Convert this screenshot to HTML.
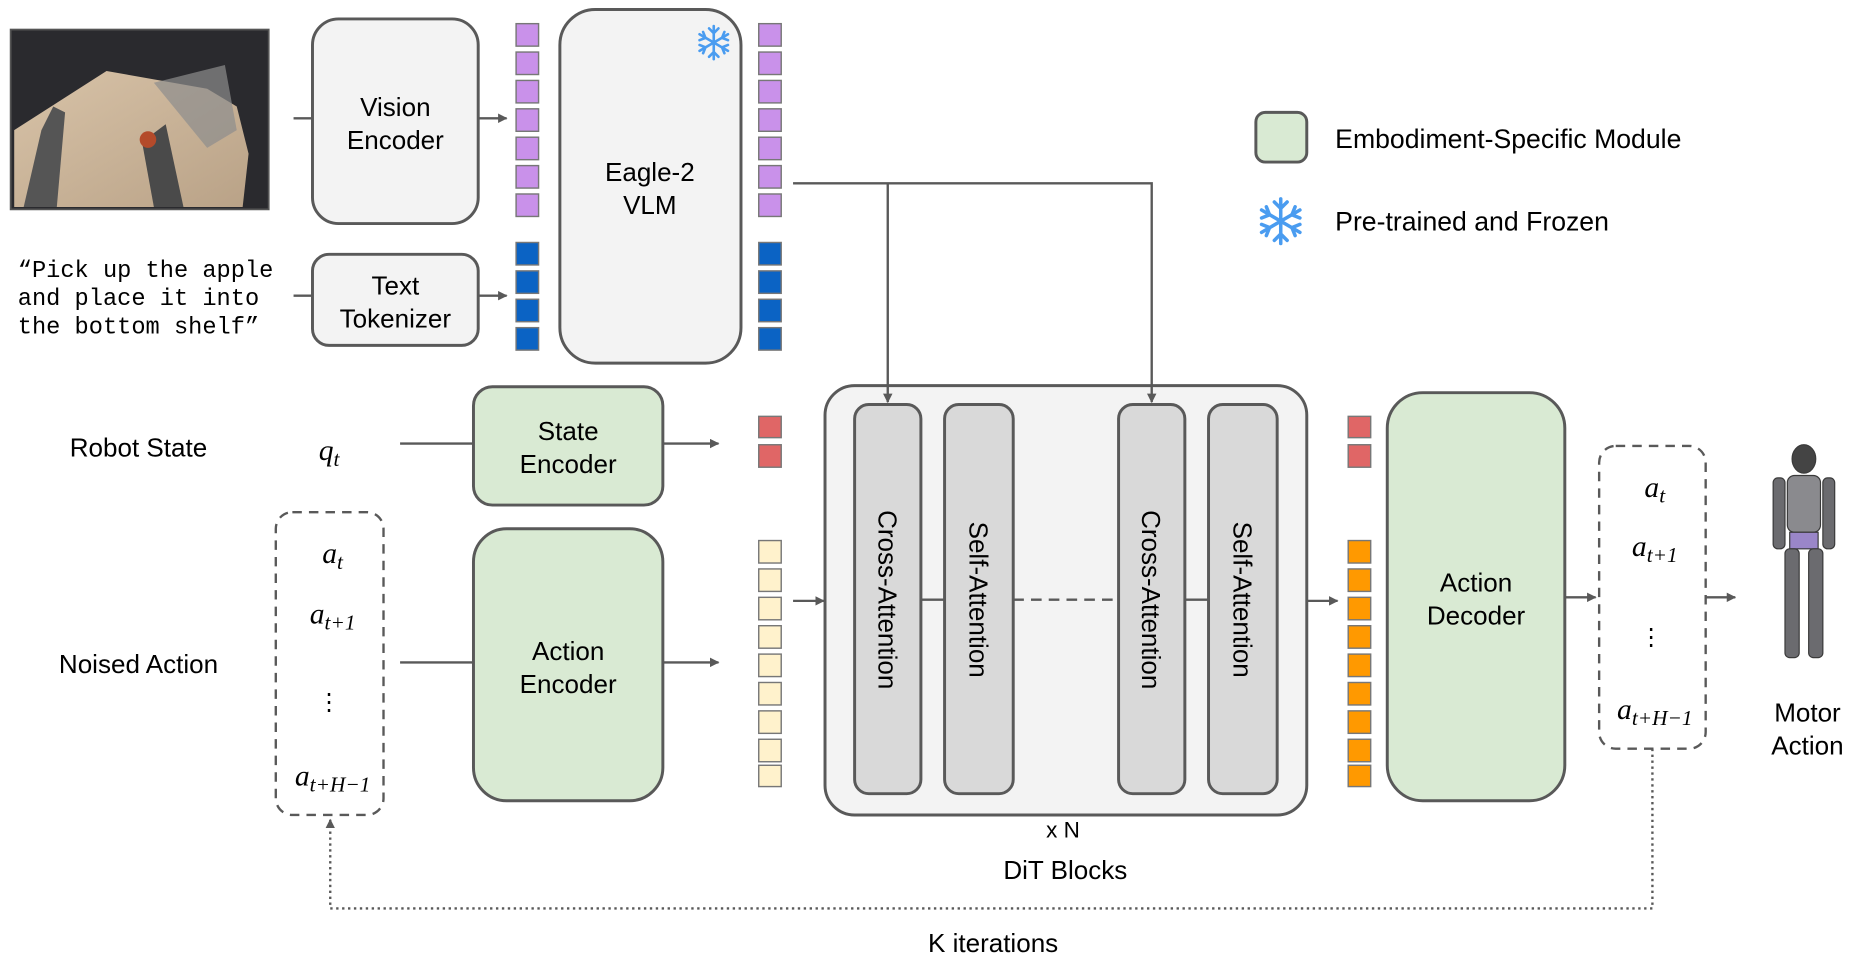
<!DOCTYPE html>
<html><head><meta charset="utf-8"><style>
html,body{margin:0;padding:0;background:#fff;}
svg{display:block;}
text{font-family:"Liberation Sans",sans-serif;fill:#000;}
.m{font-family:"Liberation Serif",serif;font-style:italic;}
</style></head><body>
<svg width="1856" height="964" viewBox="0 0 1568 815" preserveAspectRatio="none" xmlns="http://www.w3.org/2000/svg">
<defs>
<marker id="ar" viewBox="0 0 10 10" refX="9" refY="5" markerWidth="4" markerHeight="4" orient="auto"><path d="M0,0 L10,5 L0,10 z" fill="#595959"/></marker>
<linearGradient id="tb" x1="0" y1="0" x2="1" y2="1"><stop offset="0" stop-color="#d8c3a8"/><stop offset="1" stop-color="#b9a287"/></linearGradient>
<g id="snow" stroke="#4a9cf0" stroke-width="2.2" fill="none" stroke-linecap="round">
<line x1="0" y1="-14" x2="0" y2="14"/><line x1="-12" y1="-7" x2="12" y2="7"/><line x1="-12" y1="7" x2="12" y2="-7"/>
<path d="M-4,-12 L0,-8 L4,-12 M-4,12 L0,8 L4,12 M-12,-2 L-7,-4 L-9,-9 M12,2 L7,4 L9,9 M12,-2 L7,-4 L9,-9 M-12,2 L-7,4 L-9,9"/>
</g>
</defs>
<g font-size="22" text-anchor="middle">
<!-- photo -->
<rect x="9" y="25" width="218" height="152" fill="#2a2a2e" stroke="#555" stroke-width="1.5"/>
<path d="M12,110 L90,60 L175,75 L200,90 L210,130 L205,175 L12,175 Z" fill="url(#tb)"/>
<path d="M130,70 L190,55 L200,110 L175,125 Z" fill="#8d8d8d" opacity="0.7"/>
<path d="M20,175 L35,110 L45,90 L55,95 L48,175 Z" fill="#555"/>
<path d="M120,120 L140,105 L155,175 L130,175 Z" fill="#4a4a4a"/>
<circle cx="125" cy="118" r="7" fill="#b44a2a"/>
<!-- vision encoder -->
<line x1="248" y1="100" x2="264" y2="100" stroke="#595959" stroke-width="2"/>
<rect x="264" y="16" width="140" height="173" rx="22" fill="#f3f3f3" stroke="#595959" stroke-width="2.5"/>
<text x="334" y="98">Vision</text><text x="334" y="126">Encoder</text>
<line x1="404" y1="100" x2="428" y2="100" stroke="#595959" stroke-width="2" marker-end="url(#ar)"/>
<line x1="248" y1="250" x2="264" y2="250" stroke="#595959" stroke-width="2"/>
<rect x="264" y="215" width="140" height="77" rx="14" fill="#f3f3f3" stroke="#595959" stroke-width="2.5"/>
<text x="334" y="249">Text</text><text x="334" y="277">Tokenizer</text>
<line x1="404" y1="250" x2="428" y2="250" stroke="#595959" stroke-width="2" marker-end="url(#ar)"/>
<g font-size="20" text-anchor="start">
<text x="15" y="234" style="font-family:'Liberation Mono',monospace">“Pick up the apple</text>
<text x="15" y="258" style="font-family:'Liberation Mono',monospace">and place it into</text>
<text x="15" y="282" style="font-family:'Liberation Mono',monospace">the bottom shelf”</text>
</g>
<!-- tokens -->
<g stroke="#777" stroke-width="1.2">
<g fill="#c991ea">
<rect x="436" y="20" width="19" height="19"/><rect x="436" y="44" width="19" height="19"/><rect x="436" y="68" width="19" height="19"/><rect x="436" y="92" width="19" height="19"/><rect x="436" y="116" width="19" height="19"/><rect x="436" y="140" width="19" height="19"/><rect x="436" y="164" width="19" height="19"/>
<rect x="641" y="20" width="19" height="19"/><rect x="641" y="44" width="19" height="19"/><rect x="641" y="68" width="19" height="19"/><rect x="641" y="92" width="19" height="19"/><rect x="641" y="116" width="19" height="19"/><rect x="641" y="140" width="19" height="19"/><rect x="641" y="164" width="19" height="19"/>
</g>
<g fill="#0b63c4">
<rect x="436" y="205" width="19" height="19"/><rect x="436" y="229" width="19" height="19"/><rect x="436" y="253" width="19" height="19"/><rect x="436" y="277" width="19" height="19"/>
<rect x="641" y="205" width="19" height="19"/><rect x="641" y="229" width="19" height="19"/><rect x="641" y="253" width="19" height="19"/><rect x="641" y="277" width="19" height="19"/>
</g>
<g fill="#e06666">
<rect x="641" y="352" width="19" height="18"/><rect x="641" y="376" width="19" height="19"/>
<rect x="1139" y="352" width="19" height="18"/><rect x="1139" y="376" width="19" height="19"/>
</g>
<g fill="#fff2cc">
<rect x="641" y="457" width="19" height="19"/><rect x="641" y="481" width="19" height="19"/><rect x="641" y="505" width="19" height="19"/><rect x="641" y="529" width="19" height="19"/><rect x="641" y="553" width="19" height="19"/><rect x="641" y="577" width="19" height="19"/><rect x="641" y="601" width="19" height="19"/><rect x="641" y="625" width="19" height="19"/><rect x="641" y="647" width="19" height="18"/>
</g>
<g fill="#ff9900">
<rect x="1139" y="457" width="19" height="19"/><rect x="1139" y="481" width="19" height="19"/><rect x="1139" y="505" width="19" height="19"/><rect x="1139" y="529" width="19" height="19"/><rect x="1139" y="553" width="19" height="19"/><rect x="1139" y="577" width="19" height="19"/><rect x="1139" y="601" width="19" height="19"/><rect x="1139" y="625" width="19" height="19"/><rect x="1139" y="647" width="19" height="18"/>
</g>
</g>
<!-- Eagle -->
<rect x="473" y="8" width="153" height="299" rx="30" fill="#f3f3f3" stroke="#595959" stroke-width="2.5"/>
<text x="549" y="153">Eagle-2</text><text x="549" y="181">VLM</text>
<use href="#snow" x="603" y="36"/>
<!-- State -->
<text x="117" y="386">Robot State</text>
<text x="278" y="389" class="m" font-size="25">q<tspan font-size="18" dy="5">t</tspan></text>
<line x1="338" y1="375" x2="400" y2="375" stroke="#595959" stroke-width="2"/>
<rect x="400" y="327" width="160" height="100" rx="16" fill="#d9ead3" stroke="#595959" stroke-width="2.5"/>
<text x="480" y="372">State</text><text x="480" y="400">Encoder</text>
<line x1="560" y1="375" x2="607" y2="375" stroke="#595959" stroke-width="2" marker-end="url(#ar)"/>
<!-- noised action -->
<text x="117" y="569">Noised Action</text>
<rect x="233" y="433" width="91" height="256" rx="14" fill="none" stroke="#595959" stroke-width="2" stroke-dasharray="8,6"/>
<text x="281" y="476" class="m" font-size="25">a<tspan font-size="18" dy="5">t</tspan></text>
<text x="281" y="527" class="m" font-size="25">a<tspan font-size="18" dy="5">t+1</tspan></text>
<text x="278" y="600" font-size="20">⋮</text>
<text x="281" y="664" class="m" font-size="25">a<tspan font-size="18" dy="5">t+H−1</tspan></text>
<line x1="338" y1="560" x2="400" y2="560" stroke="#595959" stroke-width="2"/>
<rect x="400" y="447" width="160" height="230" rx="28" fill="#d9ead3" stroke="#595959" stroke-width="2.5"/>
<text x="480" y="558">Action</text><text x="480" y="586">Encoder</text>
<line x1="560" y1="560" x2="607" y2="560" stroke="#595959" stroke-width="2" marker-end="url(#ar)"/>
<line x1="670" y1="508" x2="696" y2="508" stroke="#595959" stroke-width="2" marker-end="url(#ar)"/>
<!-- DiT -->
<rect x="697" y="326" width="407" height="363" rx="25" fill="#f3f3f3" stroke="#595959" stroke-width="2.5"/>
<line x1="778" y1="507" x2="798" y2="507" stroke="#595959" stroke-width="2"/>
<line x1="856" y1="507" x2="945" y2="507" stroke="#595959" stroke-width="2" stroke-dasharray="9,6"/>
<line x1="1001" y1="507" x2="1021" y2="507" stroke="#595959" stroke-width="2"/>
<g fill="#d9d9d9" stroke="#595959" stroke-width="2.5">
<rect x="722" y="342" width="56" height="329" rx="12"/>
<rect x="798" y="342" width="58" height="329" rx="12"/>
<rect x="945" y="342" width="56" height="329" rx="12"/>
<rect x="1021" y="342" width="58" height="329" rx="12"/>
</g>
<!-- VLM to DiT (drawn on top) -->
<polyline points="670,155 973,155 973,340" fill="none" stroke="#595959" stroke-width="2" marker-end="url(#ar)"/>
<line x1="750" y1="155" x2="750" y2="340" stroke="#595959" stroke-width="2" marker-end="url(#ar)"/>
<text transform="translate(742,507) rotate(90)">Cross-Attention</text>
<text transform="translate(819,507) rotate(90)">Self-Attention</text>
<text transform="translate(965,507) rotate(90)">Cross-Attention</text>
<text transform="translate(1042,507) rotate(90)">Self-Attention</text>
<text x="898" y="708" font-size="19">x N</text>
<text x="900" y="743">DiT Blocks</text>
<line x1="1104" y1="508" x2="1130" y2="508" stroke="#595959" stroke-width="2" marker-end="url(#ar)"/>
<!-- decoder -->
<rect x="1172" y="332" width="150" height="345" rx="30" fill="#d9ead3" stroke="#595959" stroke-width="2.5"/>
<text x="1247" y="500">Action</text><text x="1247" y="528">Decoder</text>
<line x1="1322" y1="505" x2="1348" y2="505" stroke="#595959" stroke-width="2" marker-end="url(#ar)"/>
<rect x="1351" y="377" width="90" height="256" rx="14" fill="none" stroke="#595959" stroke-width="2" stroke-dasharray="8,6"/>
<text x="1398" y="420" class="m" font-size="25">a<tspan font-size="18" dy="5">t</tspan></text>
<text x="1398" y="470" class="m" font-size="25">a<tspan font-size="18" dy="5">t+1</tspan></text>
<text x="1395" y="545" font-size="20">⋮</text>
<text x="1398" y="608" class="m" font-size="25">a<tspan font-size="18" dy="5">t+H−1</tspan></text>
<line x1="1441" y1="505" x2="1466" y2="505" stroke="#595959" stroke-width="2" marker-end="url(#ar)"/>
<!-- robot -->
<g fill="#6b6b6f" stroke="#3a3a3a" stroke-width="1">
<ellipse cx="1524" cy="388" rx="10" ry="12" fill="#444"/>
<rect x="1510" y="402" width="28" height="48" rx="6" fill="#8a8a8e"/>
<rect x="1498" y="404" width="10" height="60" rx="4"/>
<rect x="1540" y="404" width="10" height="60" rx="4"/>
<rect x="1512" y="450" width="24" height="14" fill="#9a86c8"/>
<rect x="1508" y="464" width="12" height="92" rx="4"/>
<rect x="1528" y="464" width="12" height="92" rx="4"/>
</g>
<text x="1527" y="610">Motor</text><text x="1527" y="638">Action</text>
<!-- loop -->
<polyline points="1396,633 1396,768 279,768 279,693" fill="none" stroke="#595959" stroke-width="2" stroke-dasharray="2,3" marker-end="url(#ar)"/>
<text x="839" y="805">K iterations</text>
<!-- legend -->
<rect x="1061" y="95" width="43" height="42" rx="8" fill="#d9ead3" stroke="#595959" stroke-width="2.5"/>
<text x="1128" y="125" text-anchor="start" font-size="22.5">Embodiment-Specific Module</text>
<use href="#snow" transform="translate(1082,187) scale(1.35)"/>
<text x="1128" y="195" text-anchor="start" font-size="22.5">Pre-trained and Frozen</text>
</g>
</svg>
</body></html>
